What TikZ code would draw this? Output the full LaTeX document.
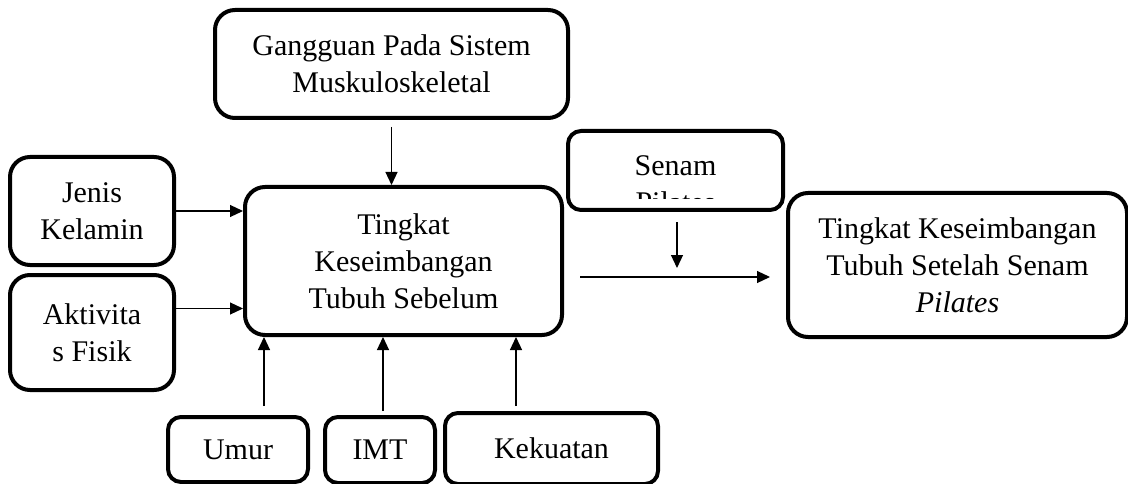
\documentclass[tikz,border=0pt]{standalone}
\usepackage{fontspec}
\setmainfont{Liberation Serif}
\usetikzlibrary{arrows.meta}
\tikzset{
	kotak/.style={draw, line width=4pt, rounded corners=20pt, align=center, inner sep=0pt, font=\fontsize{30}{37}\selectfont},
	kotakkecil/.style={kotak, rounded corners=13pt},
	panah/.style={-{Triangle[length=13pt,width=12pt]}, line width=1.2pt},
}
\begin{document}
\begin{tikzpicture}[x=1pt,y=-1pt]
				\useasboundingbox (0,0) rectangle (1128,484);
				\node (gangguan) at (391.5,64)    [kotak, minimum width=353, minimum height=108] {Gangguan Pada Sistem\\Muskuloskeletal};
				\node (sebelum) at (403.5,261)    [kotak, minimum width=317, minimum height=148] {Tingkat\\Keseimbangan\\Tubuh Sebelum};
				\node (jenis) at (92,211)         [kotak, minimum width=164, minimum height=108] {Jenis\\Kelamin};
				\node (aktivitas) at (92,332.5)   [kotak, minimum width=164, minimum height=115] {Aktivita\\s Fisik};
				\node (umur) at (238,449.5)       [kotakkecil, minimum width=140, minimum height=65] {Umur};
				\node (imt) at (380,450)          [kotakkecil, minimum width=110, minimum height=66] {IMT};
				\node (kekuatan) at (551.5,448.5) [kotakkecil, minimum width=213, minimum height=71] {Kekuatan};
				\begin{scope}
					\clip (568,131) rectangle (783,199);
					\node (senamteks) at (675.5,184) [font=\fontsize{30}{37}\selectfont, align=center] {Senam\\Pilates};
				\end{scope}
				\node (senam) at (675.5,170.5)    [kotakkecil, minimum width=215, minimum height=79] {};
				\node (setelah) at (957.5,265)    [kotak, minimum width=339, minimum height=144] {Tingkat Keseimbangan\\Tubuh Setelah Senam\\\textit{Pilates}};
				\coordinate (senamujung) at (677,268);
				\coordinate (kiri) at (580,277);
				\coordinate (kanan) at (770,277);
				\draw[panah, shorten <=7pt] (gangguan.south) -- (gangguan.south |- sebelum.north);
				\draw[panah] (jenis.east) -- (jenis.east -| sebelum.west);
				\draw[panah] ([yshift=24pt]aktivitas.east) -- ([yshift=24pt]aktivitas.east -| sebelum.west);
				\draw[panah, shorten <=9pt] ([xshift=26pt]umur.north) -- ([xshift=26pt]umur.north |- sebelum.south);
				\draw[panah, shorten <=4pt] ([xshift=3pt]imt.north) -- ([xshift=3pt]imt.north |- sebelum.south);
				\draw[panah, shorten <=5pt] ([xshift=-35.5pt]kekuatan.north) -- ([xshift=-35.5pt]kekuatan.north |- sebelum.south);
				\draw[panah, shorten <=10pt] (senam.south -| senamujung) -- (senamujung);
				\draw[panah] (kiri) -- (kanan);
\end{tikzpicture}
\end{document}
